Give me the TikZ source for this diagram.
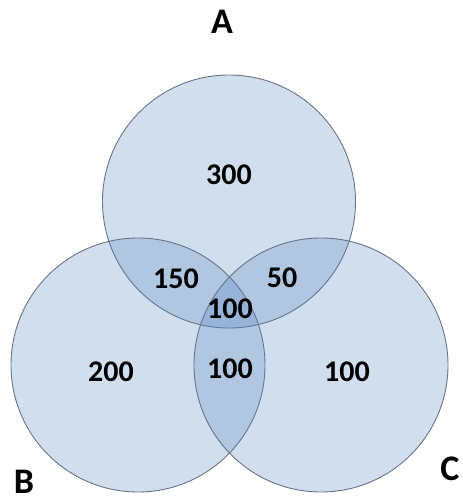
\documentclass[tikz,border=0pt]{standalone}
\usepackage{fontspec}
\setmainfont{Carlito}
\definecolor{setfill}{RGB}{79,129,189}
\definecolor{setline}{RGB}{105,115,135}
\begin{document}
\begin{tikzpicture}[x=1pt,y=-1pt,
  setcircle/.style={draw=setline, line width=0.9pt, fill=setfill, fill opacity=0.26},
  count/.style={font=\fontsize{30}{32}\selectfont\bfseries, inner sep=0pt},
  setname/.style={font=\fontsize{36}{38}\selectfont\bfseries, inner sep=0pt, anchor=base}]
  \useasboundingbox (0,0) rectangle (462,502);
  % the three sets
  \draw[setcircle] (229,201.5) circle[radius=126.5];
  \draw[setcircle] (138,365) circle[radius=127];
  \draw[setcircle] (321,365) circle[radius=127];
  % set names
  \node[setname] (nA) at (222,34) {A};
  \node[setname] (nB) at (24,493) {B};
  \node[setname] (nC) at (450,480) {C};
  % region counts
  \node[count] (onlyA) at (229,175) {300};
  \node[count] (AB) at (176,279) {150};
  \node[count] (AC) at (282,278) {50};
  \node[count] (ABC) at (230,309) {100};
  \node[count] (BC) at (230,369) {100};
  \node[count] (onlyB) at (111,372) {200};
  \node[count] (onlyC) at (347,372) {100};
\end{tikzpicture}
\end{document}
